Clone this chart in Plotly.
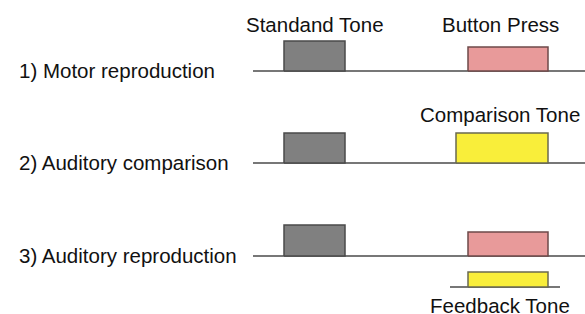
import plotly.graph_objects as go

W, H = 585, 314

# ---- data (time units along each trial timeline) ----
row_labels = ["1) Motor reproduction", "2) Auditory comparison", "3) Auditory reproduction"]
timeline_start = 0
timeline_end = 332
standard_tone = [31, 92]          # onset, offset (all rows)
second_event_names = ["Button Press", "Comparison Tone", "Button Press"]
second_event = [[215, 295], [203, 295], [215, 295]]
feedback_line = [197, 307]
feedback_tone = [215, 295]
standard_amp = [30, 30, 31]
second_amp = [24, 30, 24]
feedback_amp = 15
event_labels = ["Standand Tone", "Button Press", "Comparison Tone", "Feedback Tone"]

# ---- layout helpers ----
row_base = [71, 163, 256]   # vertical positions of the three timelines (pixels)
row_label_y = [70, 162, 255]
feedback_base = 287
X0 = -253                    # x-axis left edge in time units

styles = {
    "Standard": dict(fill="#808080", edge="#4a4a4a"),
    "Button Press": dict(fill="#E89A9A", edge="#6e4a4a"),
    "Comparison Tone": dict(fill="#F9EE3A", edge="#6a6a50"),
}
LINE = "#4a4a4a"
FONT = "Liberation Sans, Arial, sans-serif"

fig = go.Figure()

def box(x0, x1, base, amp, st):
    fig.add_trace(go.Scatter(
        x=[x0, x0, x1, x1, x0], y=[base, base - amp, base - amp, base, base],
        mode="lines", fill="toself", fillcolor=st["fill"],
        line=dict(color=st["edge"], width=1.5), hoverinfo="skip", showlegend=False))

for i, base in enumerate(row_base):
    fig.add_trace(go.Scatter(x=[timeline_start, timeline_end], y=[base, base], mode="lines",
                             line=dict(color=LINE, width=1.5), hoverinfo="skip", showlegend=False))
    box(standard_tone[0], standard_tone[1], base, standard_amp[i], styles["Standard"])
    box(second_event[i][0], second_event[i][1], base, second_amp[i], styles[second_event_names[i]])

fig.add_trace(go.Scatter(x=feedback_line, y=[feedback_base, feedback_base], mode="lines",
                         line=dict(color=LINE, width=1.5), hoverinfo="skip", showlegend=False))
box(feedback_tone[0], feedback_tone[1], feedback_base, feedback_amp, styles["Comparison Tone"])

ann = []
for i, lab in enumerate(row_labels):
    ann.append(dict(x=17 / W, xref="paper", y=row_label_y[i], yref="y", text=lab,
                    xanchor="left", yanchor="middle", showarrow=False))
ann.append(dict(x=sum(standard_tone) / 2, y=24, text=event_labels[0], xanchor="center", yanchor="middle", showarrow=False))
ann.append(dict(x=247, y=24, text=event_labels[1], xanchor="center", yanchor="middle", showarrow=False))
ann.append(dict(x=247, y=114, text=event_labels[2], xanchor="center", yanchor="middle", showarrow=False))
ann.append(dict(x=247, y=305, text=event_labels[3], xanchor="center", yanchor="middle", showarrow=False))
for a in ann:
    a["font"] = dict(family=FONT, size=20.5, color="#111111")

fig.update_layout(
    width=W, height=H, margin=dict(l=0, r=0, t=0, b=0),
    paper_bgcolor="white", plot_bgcolor="white",
    xaxis=dict(range=[X0, X0 + W], visible=False, fixedrange=True),
    yaxis=dict(range=[H, 0], visible=False, fixedrange=True),
    annotations=ann, showlegend=False,
)
fig.write_html("out.html", config={"displayModeBar": False},
               post_script="document.body.style.margin='0';document.body.style.overflow='hidden';")
